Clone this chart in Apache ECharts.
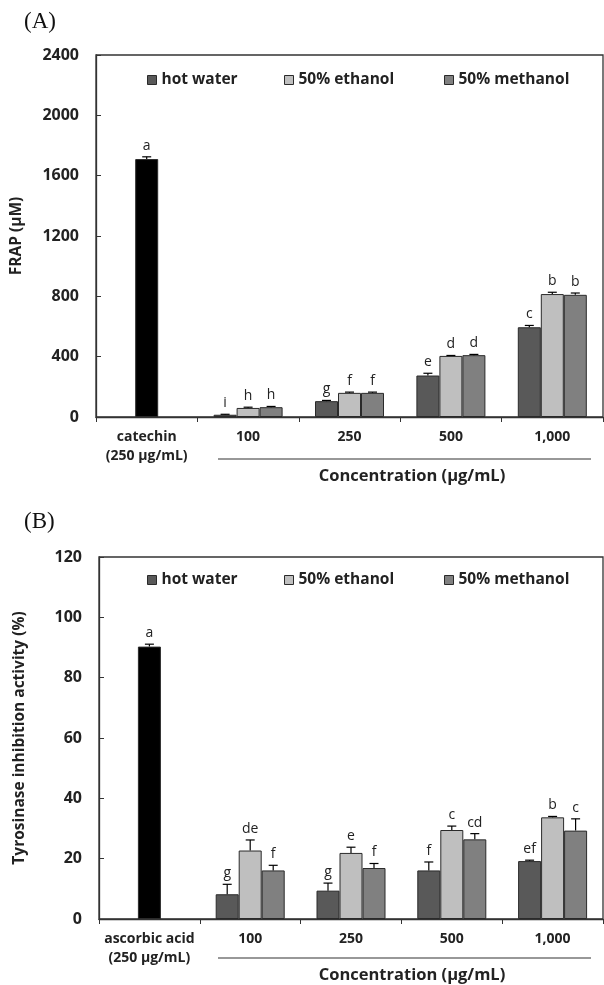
<!DOCTYPE html>
<html>
<head>
<meta charset="utf-8">
<script src="https://cdn.jsdelivr.net/npm/echarts@6/dist/echarts.min.js"></script>
<style>html,body{margin:0;padding:0;background:#fff}#c{width:604px;height:985px}</style>
</head>
<body>
<div id="c"></div>
<script>
// ---- data ----
const seriesNames = ['hot water', '50% ethanol', '50% methanol'];
// Chart A (FRAP)
const catsA = ['catechin\n(250 μg/mL)', '100', '250', '500', '1,000'];
const controlA = 1710, controlErrA = 15, controlLetterA = 'a';
const hotWaterA = [15, 105, 275, 595];
const ethanolA = [60, 160, 405, 815];
const methanolA = [65, 160, 410, 810];
const hotWaterErrA = [3, 5, 15, 12];
const ethanolErrA = [5, 5, 3, 12];
const methanolErrA = [5, 5, 5, 12];
const hotWaterLetA = ['i', 'g', 'e', 'c'];
const ethanolLetA = ['h', 'f', 'd', 'b'];
const methanolLetA = ['h', 'f', 'd', 'b'];
const yTicksA = [0, 400, 800, 1200, 1600, 2000, 2400];
// Chart B (Tyrosinase)
const catsB = ['ascorbic acid\n(250 μg/mL)', '100', '250', '500', '1,000'];
const controlB = 90.3, controlErrB = 0.8, controlLetterB = 'a';
const hotWaterB = [8.2, 9.4, 16.1, 19.2];
const ethanolB = [22.7, 21.9, 29.5, 33.7];
const methanolB = [16.1, 16.9, 26.4, 29.3];
const hotWaterErrB = [3.3, 2.5, 2.8, 0.3];
const ethanolErrB = [3.5, 1.9, 1.3, 0.3];
const methanolErrB = [1.7, 1.5, 1.9, 3.9];
const hotWaterLetB = ['g', 'g', 'f', 'ef'];
const ethanolLetB = ['de', 'e', 'c', 'b'];
const methanolLetB = ['f', 'f', 'cd', 'c'];
const yTicksB = [0, 20, 40, 60, 80, 100, 120];

// ---- styling ----
const COLORS = ['#595959', '#bfbfbf', '#808080'];
const BW = 23;
const FONT = 'Open Sans';

const chart = echarts.init(document.getElementById('c'), null, {renderer: 'canvas'});

function pad(arr) { return ['-'].concat(arr); }
function zip3(a, b, c) { return a.map((_, i) => [a[i], b[i], c[i]]); }

function errData(control, controlErr, vals, errs, lets, controlLet) {
  const items = [], letters = [];
  items.push([0, control, controlErr, 1]); letters.push(controlLet);
  for (let s = 0; s < 3; s++) {
    vals.forEach((v, k) => { items.push([k + 1, v[s], errs[k][s], s]); letters.push(lets[k][s]); });
  }
  return {items, letters};
}

function makeErrSeries(idx, e) {
  return {
    type: 'custom', xAxisIndex: idx, yAxisIndex: idx, silent: true, z: 5,
    data: e.items,
    encode: {x: 0, y: 1},
    renderItem: function (params, api) {
      const x = api.value(0), v = api.value(1), er = api.value(2), slot = api.value(3);
      const p = api.coord([x, v]);
      const pt = api.coord([x, v + er]);
      const cx = p[0] + (slot - 1) * BW;
      return {
        type: 'group',
        children: [
          {type: 'line', shape: {x1: cx, y1: p[1], x2: cx, y2: pt[1]}, style: {stroke: '#000', lineWidth: 1.2}},
          {type: 'line', shape: {x1: cx - 4.5, y1: pt[1], x2: cx + 4.5, y2: pt[1]}, style: {stroke: '#000', lineWidth: 1.2}},
          {type: 'text', x: cx, y: pt[1] - 4, style: {text: e.letters[params.dataIndex], fill: '#222', font: '14px "' + FONT + '"', textAlign: 'center', textVerticalAlign: 'bottom'}}
        ]
      };
    }
  };
}

function barSeries(idx, name, data, color, stack) {
  const s = {
    type: 'bar', name: name, xAxisIndex: idx, yAxisIndex: idx, data: data,
    barWidth: BW, barGap: '0%',
    itemStyle: {color: color, borderColor: '#2a2a2a', borderWidth: 1}
  };
  if (stack) s.stack = stack;
  return s;
}

const eA = errData(controlA, controlErrA, zip3(hotWaterA, ethanolA, methanolA), zip3(hotWaterErrA, ethanolErrA, methanolErrA), zip3(hotWaterLetA, ethanolLetA, methanolLetA), controlLetterA);
const eB = errData(controlB, controlErrB, zip3(hotWaterB, ethanolB, methanolB), zip3(hotWaterErrB, ethanolErrB, methanolErrB), zip3(hotWaterLetB, ethanolLetB, methanolLetB), controlLetterB);

function xAxisCfg(idx, cats) {
  return {
    type: 'category', gridIndex: idx, data: cats,
    axisLine: {lineStyle: {color: '#333', width: 1.3}},
    axisTick: {show: true, length: 5, inside: false, lineStyle: {color: '#333'}},
    axisLabel: {color: '#222', fontFamily: FONT, fontWeight: 'bold', fontSize: 14, lineHeight: 19, margin: 11, interval: 0},
    splitLine: {show: false}
  };
}
function yAxisCfg(idx, ticks, name) {
  return {
    type: 'value', gridIndex: idx, min: ticks[0], max: ticks[ticks.length - 1], interval: ticks[1] - ticks[0],
    name: name, nameLocation: 'middle', nameGap: 71, nameRotate: 90,
    nameTextStyle: {color: '#222', fontFamily: FONT, fontWeight: 'bold', fontSize: 15.5},
    axisLine: {show: true, lineStyle: {color: '#333', width: 1.3}},
    axisTick: {show: true, inside: true, length: 5, lineStyle: {color: '#333'}},
    axisLabel: {color: '#222', fontFamily: FONT, fontWeight: 'bold', fontSize: 16, margin: 17, formatter: v => String(v)},
    splitLine: {show: false}
  };
}

const legendLefts = [142, 279, 439];
const legends = [];
[67, 567].forEach(top => {
  seriesNames.forEach((n, i) => legends.push({
    data: [n], left: legendLefts[i], top: top, icon: 'rect', itemWidth: 9, itemHeight: 9, itemGap: 5,
    selectedMode: false,
    textStyle: {color: '#222', fontFamily: FONT, fontWeight: 'bold', fontSize: 15.5},
    itemStyle: {borderColor: '#2a2a2a', borderWidth: 1}
  }));
});

const option = {
  animation: false,
  backgroundColor: '#fff',
  grid: [
    {left: 96, top: 55, width: 507, height: 362, show: true, borderColor: '#333', borderWidth: 1.3, containLabel: false},
    {left: 99, top: 557, width: 504, height: 362, show: true, borderColor: '#333', borderWidth: 1.3, containLabel: false}
  ],
  legend: legends,
  xAxis: [xAxisCfg(0, catsA), xAxisCfg(1, catsB)],
  yAxis: [yAxisCfg(0, yTicksA, 'FRAP (μM)'), yAxisCfg(1, yTicksB, 'Tyrosinase inhibition activity (%)')],
  title: [
    {text: '(A)', left: 19, top: 5, textStyle: {fontFamily: 'Liberation Serif', fontWeight: 'normal', fontSize: 23, color: '#111'}},
    {text: '(B)', left: 19, top: 505, textStyle: {fontFamily: 'Liberation Serif', fontWeight: 'normal', fontSize: 23, color: '#111'}},
    {text: 'Concentration (μg/mL)', left: 407, top: 463, textAlign: 'center', textStyle: {fontFamily: FONT, fontWeight: 'bold', fontSize: 16.5, color: '#222'}},
    {text: 'Concentration (μg/mL)', left: 407, top: 962, textAlign: 'center', textStyle: {fontFamily: FONT, fontWeight: 'bold', fontSize: 16.5, color: '#222'}}
  ],
  graphic: [
    {type: 'line', shape: {x1: 218, y1: 459, x2: 591, y2: 459}, style: {stroke: '#333', lineWidth: 1.2}},
    {type: 'line', shape: {x1: 218, y1: 958, x2: 591, y2: 958}, style: {stroke: '#333', lineWidth: 1.2}}
  ],
  series: [
    barSeries(0, 'hot water', pad(hotWaterA), COLORS[0]),
    barSeries(0, 'catechin', [controlA, '-', '-', '-', '-'], '#000', 'midA'),
    barSeries(0, '50% ethanol', pad(ethanolA), COLORS[1], 'midA'),
    barSeries(0, '50% methanol', pad(methanolA), COLORS[2]),
    makeErrSeries(0, eA),
    barSeries(1, 'hot water', pad(hotWaterB), COLORS[0]),
    barSeries(1, 'ascorbic acid', [controlB, '-', '-', '-', '-'], '#000', 'midB'),
    barSeries(1, '50% ethanol', pad(ethanolB), COLORS[1], 'midB'),
    barSeries(1, '50% methanol', pad(methanolB), COLORS[2]),
    makeErrSeries(1, eB)
  ]
};
chart.setOption(option);
</script>
</body>
</html>
